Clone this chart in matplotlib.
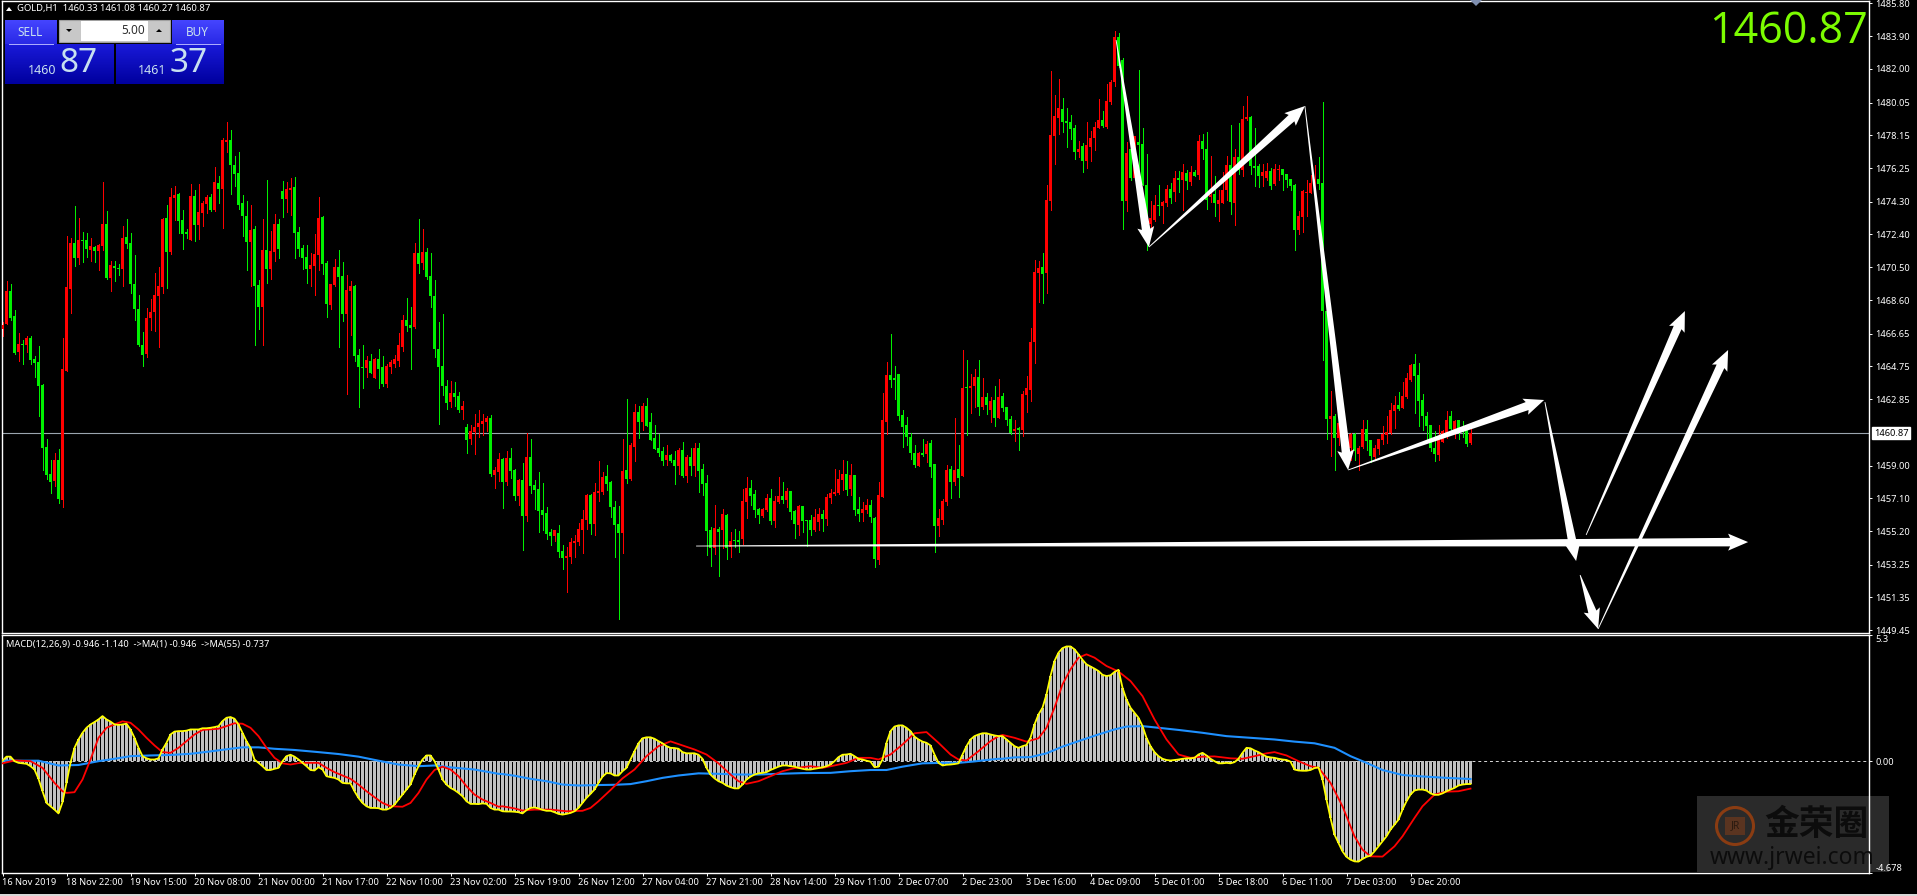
import numpy as np
import matplotlib
matplotlib.use('Agg')
import matplotlib.pyplot as plt
from matplotlib.patches import Polygon, Rectangle, Circle
from matplotlib.transforms import IdentityTransform

plt.rcParams['font.family'] = ['Noto Sans', 'Noto Sans CJK SC', 'DejaVu Sans']

# candle colours, r = up, g = down
candle_colors = ("rrggrgrggg" "gggrgrrrgr" "ggrgrrgrgg" "rgggggrrrr" "rgrrgggrgr"
                 "rrgrgrrggg" "ggrggrgrrg" "grrggggrrr" "ggrrggrrgg" "grgrggrrrr"
                 "rggrgrgggg" "ggrggrgrrr" "rrgrrgrggr" "grggggggrg" "grrrrrrgrr"
                 "rggggrgrrg" "rgggggrggr" "grgrggggrg" "rgrggrrggg" "rrgrrgrggr"
                 "gggrrgrrrr" "rgrggrrggr" "rrgggggggr" "grggrrrgrg" "rgrrgrgrgr"
                 "gggrgrrrrr" "grrrrggggr" "grrrrgrrrg" "grgrgggrrg" "rrgrgrgrgr"
                 "ggrgrrrgrg" "rrgggrrgrr" "ggggrrrrrg" "ggrgrggrgr" "rggrrrrrrg"
                 "rrrggggggr" "rrgrgggr")

body_top = [
    1467.15,1469.12,1469.12,1467.67,1466.05,1466.05,1466.40,1466.40,1465.18,1465.00,
    1463.67,1460.07,1458.51,1459.32,1459.32,1464.60,1469.35,1471.91,1471.91,1472.08,
    1472.08,1472.08,1471.73,1471.67,1471.79,1473.01,1473.01,1470.63,1470.57,1470.46,
    1472.20,1472.25,1471.91,1469.53,1468.08,1465.99,1467.56,1467.90,1468.89,1469.41,
    1473.30,1473.36,1474.57,1474.69,1474.75,1473.24,1472.54,1474.63,1474.63,1473.70,
    1474.23,1474.57,1474.57,1475.44,1475.39,1477.88,1477.88,1477.88,1476.43,1475.97,
    1474.23,1473.47,1472.66,1472.72,1469.47,1471.50,1471.50,1471.44,1473.01,1473.01,
    1474.92,1475.04,1475.10,1475.15,1472.54,1471.62,1471.09,1470.63,1471.27,1473.36,
    1473.41,1470.75,1469.53,1470.51,1470.51,1469.99,1469.18,1469.41,1469.41,1465.41,
    1464.71,1465.12,1465.06,1465.18,1465.18,1464.71,1464.77,1465.00,1465.18,1465.99,
    1467.44,1467.44,1467.15,1471.33,1471.33,1471.38,1471.38,1469.99,1468.83,1465.76,
    1464.77,1463.61,1463.21,1463.21,1463.03,1462.45,1461.23,1461.00,1461.23,1461.47,
    1461.58,1461.76,1461.76,1458.74,1459.38,1459.38,1459.44,1459.44,1458.74,1458.16,
    1458.16,1459.49,1459.49,1457.87,1457.64,1456.42,1456.25,1455.14,1455.26,1455.09,
    1454.04,1453.75,1454.56,1454.62,1455.32,1455.90,1457.29,1457.29,1457.46,1457.52,
    1458.33,1458.39,1458.04,1456.59,1455.61,1458.68,1458.74,1460.19,1462.10,1462.10,
    1462.45,1462.45,1461.52,1460.60,1460.02,1459.84,1459.61,1459.61,1459.32,1459.90,
    1459.90,1459.49,1459.49,1460.02,1460.02,1458.80,1457.99,1455.26,1455.38,1455.32,
    1456.19,1456.13,1454.62,1454.68,1454.68,1456.94,1457.70,1457.70,1457.35,1456.48,
    1456.48,1457.12,1457.12,1456.94,1457.23,1457.23,1457.52,1457.52,1456.36,1456.65,
    1456.65,1455.84,1455.84,1456.01,1456.19,1456.19,1457.17,1457.41,1457.46,1458.22,
    1458.51,1458.51,1458.45,1458.45,1456.48,1456.48,1456.71,1456.71,1455.96,1457.29,
    1461.64,1464.25,1464.25,1464.08,1464.31,1461.93,1461.35,1460.65,1459.73,1459.73,
    1459.73,1460.25,1460.31,1459.09,1455.96,1456.94,1458.74,1458.80,1458.74,1458.80,
    1463.50,1463.55,1463.61,1464.13,1464.13,1462.97,1462.97,1462.74,1462.80,1462.97,
    1463.03,1462.39,1461.70,1461.12,1461.18,1463.15,1463.50,1466.16,1470.22,1470.46,
    1470.51,1474.40,1478.17,1479.27,1479.74,1479.68,1478.98,1478.92,1478.58,1477.36,
    1477.53,1477.59,1478.00,1478.63,1479.04,1479.04,1480.14,1481.24,1483.88,1483.88,
    1482.52,1477.13,1477.36,1478.11,1477.76,1477.65,1475.27,1473.36,1474.11,1474.11,
    1474.28,1475.04,1475.04,1475.68,1475.68,1476.02,1475.97,1476.02,1476.02,1477.82,
    1477.82,1477.36,1474.69,1474.75,1474.40,1474.98,1476.43,1476.43,1476.89,1476.89,
    1479.10,1479.21,1479.21,1476.37,1476.37,1476.02,1476.08,1476.08,1476.20,1476.20,
    1476.20,1475.91,1475.62,1475.27,1473.47,1474.92,1474.86,1475.39,1475.62,1475.62,
    1475.39,1467.96,1461.87,1461.87,1461.47,1461.06,1460.65,1460.83,1460.83,1460.02,
    1461.12,1461.12,1460.48,1460.02,1460.54,1460.83,1460.94,1462.22,1462.51,1462.51,
    1463.03,1464.08,1464.83,1464.89,1464.25,1462.80,1461.87,1461.35,1460.02,1460.54,
    1461.00,1461.64,1461.87,1461.58,1461.64,1461.12,1461.06,1460.89]

body_bot = [
    1466.92,1467.21,1467.56,1465.53,1465.58,1465.99,1465.99,1465.12,1464.95,1463.61,
    1460.02,1458.45,1458.04,1458.10,1457.06,1457.00,1464.48,1469.24,1471.04,1471.04,
    1472.02,1471.56,1471.50,1471.44,1471.44,1471.73,1469.88,1469.88,1470.46,1470.40,
    1470.40,1471.85,1469.53,1468.08,1465.99,1465.41,1465.47,1467.56,1467.90,1468.83,
    1469.35,1471.38,1471.38,1474.52,1473.18,1472.43,1472.43,1472.08,1472.95,1472.95,
    1473.65,1474.17,1473.82,1473.82,1475.04,1475.04,1477.76,1476.43,1475.91,1474.11,
    1473.47,1471.96,1471.96,1469.41,1468.19,1468.19,1470.40,1470.40,1471.38,1471.56,
    1474.46,1474.46,1474.98,1472.49,1471.56,1471.04,1470.40,1470.40,1470.57,1471.21,
    1470.69,1468.37,1468.31,1469.47,1469.93,1467.79,1467.79,1469.12,1465.35,1464.71,
    1464.66,1464.66,1464.37,1464.08,1464.60,1463.73,1463.73,1464.71,1464.89,1465.06,
    1465.87,1467.09,1466.98,1467.03,1470.69,1470.75,1469.93,1468.83,1465.76,1464.71,
    1463.61,1462.63,1462.68,1462.97,1462.22,1462.22,1460.48,1460.54,1460.94,1461.23,
    1461.41,1461.52,1458.51,1458.45,1458.62,1458.04,1458.04,1458.68,1457.23,1457.23,
    1456.07,1456.07,1457.81,1457.58,1456.36,1456.13,1455.03,1454.91,1454.91,1453.98,
    1453.64,1453.64,1453.69,1454.51,1454.56,1455.26,1455.84,1455.61,1455.61,1457.41,
    1457.46,1457.93,1456.59,1455.55,1455.09,1455.09,1458.22,1458.22,1460.07,1461.52,
    1461.52,1461.29,1460.48,1459.96,1459.73,1459.26,1459.32,1459.26,1458.97,1458.97,
    1458.39,1458.39,1458.97,1458.97,1458.68,1457.93,1455.20,1454.22,1454.22,1455.14,
    1455.26,1454.22,1454.27,1454.62,1454.56,1454.74,1456.88,1457.23,1456.42,1456.13,
    1456.07,1456.42,1455.78,1455.78,1456.88,1457.00,1457.00,1456.30,1455.61,1455.55,
    1455.78,1455.78,1455.26,1455.26,1455.72,1455.90,1455.90,1457.12,1457.35,1457.41,
    1458.16,1457.58,1457.64,1456.42,1456.19,1456.25,1456.42,1456.01,1453.58,1453.52,
    1457.17,1461.52,1463.96,1463.96,1461.87,1461.23,1460.65,1459.73,1459.03,1458.97,
    1459.61,1459.67,1458.91,1455.49,1455.49,1455.84,1456.88,1458.04,1458.04,1458.28,
    1458.39,1463.50,1463.50,1463.61,1462.39,1462.39,1462.51,1462.22,1461.76,1461.76,
    1462.34,1461.64,1460.89,1461.00,1461.06,1461.06,1463.09,1463.38,1466.16,1470.17,
    1470.11,1470.17,1474.34,1478.11,1479.16,1478.92,1478.87,1478.52,1477.18,1477.18,
    1476.66,1476.66,1477.47,1478.00,1478.58,1478.69,1478.63,1480.08,1481.24,1482.17,
    1474.34,1474.34,1475.68,1475.68,1477.59,1475.27,1473.01,1473.01,1473.24,1474.05,
    1474.05,1474.23,1474.52,1474.86,1475.56,1475.56,1475.50,1475.44,1475.79,1475.85,
    1477.36,1474.40,1474.57,1474.23,1474.17,1474.23,1474.98,1474.28,1474.23,1476.14,
    1476.14,1479.10,1476.37,1476.26,1475.79,1475.79,1475.68,1475.21,1475.33,1476.14,
    1475.85,1475.56,1475.21,1472.66,1472.66,1473.41,1474.81,1474.81,1475.39,1475.33,
    1467.96,1461.70,1461.70,1460.60,1460.60,1460.60,1460.07,1460.02,1459.84,1459.67,
    1460.07,1460.42,1459.55,1459.49,1459.96,1460.48,1460.77,1460.89,1462.16,1462.28,
    1462.34,1462.97,1463.96,1464.19,1462.74,1461.87,1461.29,1460.02,1459.67,1459.61,
    1460.36,1460.89,1461.12,1461.06,1461.06,1461.00,1460.25,1460.31]

highs = [
    1467.32,1469.70,1469.53,1468.02,1466.69,1466.28,1466.51,1466.51,1465.35,1465.93,
    1463.73,1460.54,1459.32,1459.73,1459.96,1466.40,1472.31,1472.20,1474.05,1473.36,
    1472.54,1472.49,1472.20,1471.73,1471.85,1475.44,1473.76,1470.86,1470.86,1470.69,
    1472.89,1473.30,1472.49,1471.21,1468.89,1466.74,1468.14,1468.66,1470.17,1470.51,
    1473.36,1474.11,1475.10,1475.21,1474.81,1473.82,1472.72,1475.33,1474.98,1475.33,
    1474.34,1474.69,1474.75,1476.31,1475.79,1478.00,1478.92,1478.46,1476.95,1477.18,
    1474.69,1474.34,1474.11,1472.89,1469.76,1473.30,1475.56,1472.60,1473.59,1473.30,
    1475.50,1475.44,1475.68,1475.73,1472.83,1471.79,1471.79,1471.33,1472.43,1474.57,
    1473.47,1470.86,1469.53,1470.98,1471.50,1470.80,1470.05,1469.70,1469.47,1465.76,
    1465.99,1465.35,1465.47,1465.24,1465.76,1465.35,1464.89,1465.12,1465.41,1466.69,
    1467.73,1468.72,1468.19,1471.91,1473.30,1472.72,1471.62,1471.33,1469.76,1467.32,
    1467.79,1463.96,1463.90,1463.84,1463.26,1462.74,1461.41,1461.35,1461.99,1462.22,
    1461.99,1461.87,1461.93,1458.91,1459.73,1459.44,1459.84,1460.02,1458.80,1458.22,
    1459.15,1460.89,1460.54,1458.16,1458.62,1457.99,1456.59,1455.32,1455.26,1455.55,
    1454.39,1454.27,1454.80,1454.97,1455.67,1456.42,1457.35,1457.35,1457.99,1459.26,
    1458.62,1459.03,1458.10,1456.94,1456.65,1460.54,1462.86,1460.31,1462.57,1462.45,
    1462.63,1462.92,1462.05,1461.35,1460.83,1460.07,1460.19,1459.67,1459.84,1460.02,
    1460.36,1459.61,1460.02,1460.31,1460.31,1459.09,1458.45,1455.43,1456.71,1455.43,
    1456.48,1456.19,1455.14,1455.32,1455.20,1457.64,1458.33,1458.16,1457.58,1456.54,
    1456.54,1457.35,1457.64,1457.23,1458.33,1458.04,1457.70,1457.52,1456.42,1456.71,
    1456.65,1455.84,1456.13,1456.48,1456.54,1456.42,1457.35,1457.64,1458.80,1458.74,
    1459.32,1459.26,1459.09,1458.45,1457.17,1456.88,1457.06,1457.00,1456.01,1458.04,
    1463.21,1465.00,1466.63,1464.77,1464.31,1462.22,1461.81,1460.89,1460.19,1459.78,
    1460.54,1460.42,1460.48,1459.09,1456.48,1457.06,1459.03,1458.97,1461.76,1460.19,
    1465.70,1465.12,1464.31,1464.60,1465.12,1464.08,1463.21,1462.97,1463.61,1464.02,
    1463.21,1462.39,1461.87,1461.64,1461.23,1463.32,1464.19,1466.98,1470.92,1470.86,
    1471.33,1475.27,1481.88,1480.49,1481.42,1480.32,1479.74,1479.33,1478.75,1477.82,
    1477.71,1478.92,1478.40,1478.92,1480.26,1479.56,1481.13,1481.36,1484.20,1484.09,
    1482.64,1477.76,1477.36,1478.11,1481.94,1478.58,1477.07,1474.34,1474.69,1475.27,
    1474.34,1475.27,1475.39,1476.08,1476.08,1476.49,1476.14,1476.37,1476.14,1478.17,
    1478.23,1478.34,1476.95,1475.79,1474.98,1476.02,1476.95,1478.75,1477.36,1478.87,
    1479.85,1480.43,1479.27,1478.58,1476.49,1476.49,1476.55,1476.26,1476.49,1476.43,
    1476.20,1475.91,1475.62,1475.33,1473.76,1474.98,1475.56,1475.85,1476.43,1476.89,
    1480.08,1467.96,1463.32,1461.99,1461.76,1461.64,1460.77,1460.89,1460.89,1460.13,
    1461.64,1461.64,1460.48,1460.19,1460.54,1461.29,1461.87,1462.63,1463.03,1463.26,
    1463.84,1464.37,1464.89,1465.47,1464.95,1463.15,1462.10,1461.35,1461.00,1461.35,
    1461.06,1462.16,1462.16,1461.64,1461.64,1461.58,1461.06,1461.12]

lows = [
    1466.51,1467.21,1467.44,1465.47,1465.06,1464.89,1465.58,1464.89,1464.13,1461.87,
    1458.74,1458.22,1457.41,1457.81,1456.83,1456.59,1464.48,1467.85,1470.57,1470.69,
    1470.80,1471.09,1470.86,1470.80,1470.34,1471.50,1469.82,1469.12,1469.70,1470.05,
    1469.41,1471.62,1469.01,1467.44,1465.93,1464.77,1465.29,1466.86,1466.80,1465.87,
    1469.01,1469.30,1471.27,1473.24,1472.49,1471.56,1472.20,1472.08,1472.02,1472.14,
    1472.89,1473.65,1473.76,1473.76,1474.23,1472.78,1477.18,1474.75,1475.21,1473.88,
    1472.31,1470.34,1469.41,1465.99,1466.92,1465.99,1469.59,1469.82,1470.86,1471.04,
    1473.41,1473.70,1473.53,1471.04,1471.15,1470.40,1469.59,1469.41,1468.89,1470.34,
    1470.11,1467.61,1468.08,1469.41,1465.87,1467.38,1463.15,1466.57,1465.06,1462.39,
    1463.50,1464.13,1464.37,1464.08,1463.50,1463.61,1463.55,1464.37,1464.71,1464.77,
    1465.64,1466.80,1464.60,1466.98,1470.17,1470.40,1469.82,1468.19,1465.29,1461.41,
    1463.09,1462.28,1462.39,1462.45,1462.10,1461.70,1459.73,1460.25,1459.67,1460.65,
    1460.77,1461.00,1458.39,1457.70,1458.10,1456.54,1457.87,1458.28,1457.00,1456.71,
    1454.10,1455.78,1457.41,1456.48,1455.14,1455.26,1454.74,1454.39,1454.62,1453.69,
    1453.00,1451.66,1453.35,1453.69,1454.39,1453.93,1455.32,1455.03,1454.97,1456.94,
    1457.35,1457.58,1456.01,1453.69,1450.10,1453.93,1457.99,1458.16,1459.26,1460.60,
    1461.06,1461.29,1460.48,1459.96,1459.55,1459.03,1459.03,1459.20,1457.93,1458.51,
    1458.33,1458.04,1458.45,1458.39,1457.46,1457.29,1453.81,1453.17,1453.87,1452.59,
    1454.22,1453.58,1453.69,1454.27,1453.98,1454.45,1455.96,1456.71,1456.01,1455.67,
    1456.01,1456.36,1455.61,1455.43,1456.83,1456.83,1456.59,1455.90,1454.80,1454.97,
    1455.14,1454.33,1454.97,1455.20,1455.26,1455.20,1455.55,1456.83,1457.29,1457.35,
    1457.58,1457.29,1457.29,1456.13,1455.78,1455.78,1456.25,1455.72,1453.11,1453.29,
    1457.17,1460.83,1463.55,1462.86,1461.64,1460.07,1460.19,1459.38,1458.91,1458.97,
    1459.55,1459.20,1458.33,1453.98,1454.91,1455.61,1456.71,1457.12,1457.87,1457.17,
    1458.39,1460.77,1462.05,1462.39,1461.93,1462.28,1461.99,1461.52,1461.29,1461.76,
    1462.16,1461.35,1460.83,1460.42,1459.90,1460.71,1462.10,1462.74,1464.95,1468.48,
    1468.43,1469.01,1473.82,1476.49,1478.23,1478.34,1477.47,1477.94,1476.78,1476.89,
    1476.02,1476.26,1476.66,1477.30,1478.58,1478.63,1478.58,1479.97,1481.01,1482.11,
    1472.72,1473.76,1475.56,1475.68,1476.08,1475.27,1471.50,1472.43,1473.18,1473.53,
    1473.07,1474.05,1474.23,1474.34,1474.86,1473.82,1475.04,1475.27,1475.79,1475.62,
    1476.78,1473.88,1474.28,1473.47,1473.18,1474.23,1474.40,1473.59,1472.95,1475.91,
    1475.79,1479.04,1475.91,1475.21,1475.15,1475.21,1475.56,1475.04,1475.27,1475.56,
    1474.98,1475.15,1474.98,1471.50,1472.43,1472.54,1473.47,1474.81,1474.81,1475.04,
    1465.12,1460.54,1459.55,1458.74,1460.19,1459.73,1459.32,1459.32,1459.32,1458.74,
    1460.02,1459.90,1459.20,1459.38,1459.67,1460.25,1460.31,1460.83,1461.18,1462.22,
    1462.34,1462.92,1463.90,1462.05,1461.29,1461.06,1460.48,1459.84,1459.26,1459.32,
    1460.36,1460.60,1460.83,1460.60,1460.54,1460.65,1460.13,1460.25]

# MACD main line, same values as the histogram
macd = [
    0.03,0.20,0.20,0.01,-0.06,-0.08,-0.10,-0.20,-0.34,-0.73,
    -1.25,-1.74,-1.88,-2.02,-2.18,-1.71,-0.90,-0.06,0.57,0.92,
    1.20,1.41,1.55,1.65,1.76,1.90,1.76,1.67,1.55,1.53,
    1.55,1.58,1.34,0.99,0.57,0.22,0.13,0.08,0.08,0.13,
    0.50,0.78,1.13,1.25,1.27,1.27,1.29,1.34,1.34,1.34,
    1.39,1.39,1.41,1.44,1.48,1.69,1.83,1.86,1.79,1.55,
    1.20,0.85,0.57,0.08,-0.06,-0.20,-0.36,-0.36,-0.31,-0.27,
    0.01,0.22,0.28,0.20,0.08,-0.06,-0.20,-0.36,-0.38,-0.24,
    -0.34,-0.62,-0.66,-0.69,-0.76,-0.90,-0.92,-0.92,-1.25,-1.53,
    -1.74,-1.88,-1.95,-1.95,-1.96,-2.02,-2.02,-1.95,-1.81,-1.60,
    -1.39,-1.18,-0.97,-0.55,-0.20,0.08,0.25,0.25,0.01,-0.34,
    -0.76,-0.97,-1.11,-1.20,-1.32,-1.46,-1.67,-1.78,-1.78,-1.79,
    -1.76,-1.78,-1.95,-2.02,-2.02,
    -2.09,-2.10,-2.10,-2.11,-2.13,-2.18,-2.04,-1.95,-1.93,-1.97,
    -2.03,-2.07,-2.07,-2.13,-2.20,-2.23,-2.20,-2.16,-2.09,-1.95,
    -1.74,-1.53,-1.36,-1.18,-0.90,-0.64,-0.49,-0.50,-0.59,-0.59,
    -0.41,-0.27,0.08,0.43,0.76,0.97,1.01,1.01,0.95,0.85,
    0.76,0.64,0.57,0.56,0.53,0.39,0.34,0.34,0.34,0.28,
    0.11,-0.27,-0.55,-0.71,-0.83,-0.90,-1.01,-1.08,-1.13,-1.13,
    -0.97,-0.76,-0.64,-0.55,-0.50,-0.48,-0.45,-0.36,-0.29,-0.22,
    -0.17,-0.17,-0.20,-0.22,-0.27,-0.31,-0.34,-0.34,-0.31,-0.28,
    -0.25,-0.20,-0.13,0.01,0.18,0.28,0.29,0.32,0.22,0.11,
    0.08,0.03,-0.01,-0.24,-0.22,0.08,0.78,1.27,1.46,1.51,
    1.51,1.41,1.27,1.04,0.92,0.83,0.78,0.67,0.29,-0.06,
    -0.17,-0.14,-0.13,-0.11,-0.08,0.29,0.64,0.92,1.06,1.13,
    1.18,1.18,1.13,1.09,1.06,
    1.06,0.92,0.78,0.64,0.57,0.64,0.69,0.99,1.55,1.97,
    2.25,2.81,3.58,4.21,4.56,4.75,4.82,4.82,4.70,4.49,
    4.26,4.07,3.98,3.89,3.79,3.63,3.58,3.61,3.75,3.84,
    3.09,2.60,2.25,2.04,1.83,1.48,0.99,0.64,0.39,0.22,
    0.11,0.06,0.04,0.06,0.08,0.11,0.13,0.13,0.15,0.29,
    0.36,0.25,0.11,0.01,-0.08,-0.08,-0.06,-0.08,-0.03,0.11,
    0.36,0.57,0.55,0.46,0.39,0.29,0.20,0.17,0.15,0.11,
    0.08,0.06,-0.01,-0.34,-0.38,-0.39,-0.39,-0.36,-0.28,-0.25,
    -0.76,-1.60,-2.37,-3.07,-3.42,-3.77,-4.00,-4.12,-4.19,-4.20,
    -4.09,-4.00,-3.95,-3.77,-3.56,-3.35,-3.14,-2.86,-2.65,-2.44,
    -2.02,-1.67,-1.39,-1.22,-1.18,-1.18,-1.22,-1.34,-1.40,-1.40,
    -1.34,-1.25,-1.18,-1.11,-1.01,-0.97,-0.95,-0.946]

# red signal line, read at the turning points only
signal_idx = [0,3,7,10,13,15,16,18,20,22,24,26,28,30,32,34,36,38,40,42,44,46,48,50,54,56,58,60,62,64,
              66,68,70,72,74,76,79,81,83,87,89,91,93,95,97,100,102,104,106,108,110,112,114,116,118,120,122,124,
              125,128,130,133,137,141,145,147,149,152,155,158,161,164,167,170,173,176,179,182,184,186,189,192,195,198,
              202,205,208,211,214,217,219,222,225,228,231,234,237,239,241,244,247,249,
              250,253,256,259,261,263,265,267,269,271,273,276,279,282,285,288,291,294,297,300,303,307,310,313,316,318,
              321,324,327,329,332,335,338,340,342,345,348,350,353,355,358,361,364,367]
signal = [-0.08,0.04,0.01,-0.27,-0.90,-1.25,-1.32,-1.29,-0.76,0.08,0.99,1.41,1.55,1.68,1.62,1.34,0.99,0.67,0.39,0.36,
          0.57,0.85,1.13,1.32,1.37,1.48,1.60,1.58,1.41,1.06,0.57,0.15,-0.08,-0.13,-0.07,-0.06,-0.06,-0.27,-0.45,-0.73,
          -0.97,-1.25,-1.50,-1.74,-1.88,-1.90,-1.74,-1.32,-0.76,-0.36,-0.22,-0.34,-0.62,-1.04,-1.39,-1.60,-1.74,-1.90,
          -1.88,-1.97,-2.06,-2.02,-2.02,-2.09,-2.07,-1.95,-1.67,-1.20,-0.71,-0.34,0.22,0.64,0.84,0.67,0.50,0.29,-0.08,
          -0.55,-0.83,-0.94,-0.83,-0.62,-0.41,-0.28,-0.20,-0.27,-0.17,-0.06,0.15,0.15,0.08,0.29,0.71,1.18,1.23,0.78,0.29,
          0.08,0.04,0.43,0.85,1.06,
          1.11,0.99,0.83,0.97,1.41,2.25,3.23,3.86,4.35,4.49,4.35,4.00,3.77,3.37,2.74,1.76,0.92,0.29,0.15,0.20,0.21,0.13,
          0.11,0.22,0.34,0.39,0.25,0.01,-0.20,-0.27,-0.90,-1.88,-3.14,-3.70,-3.98,-3.99,-3.56,-3.14,-2.37,-1.88,-1.39,
          -1.27,-1.25,-1.14]

# blue MA(55)
ma55_idx = [0,9,14,19,24,28,32,37,42,47,52,57,60,64,68,73,79,84,89,94,99,104,108,112,118,124,
            125,128,132,136,140,144,149,153,157,161,165,169,174,179,184,189,194,200,207,212,217,221,225,230,235,239,243,246,249,
            250,253,257,261,265,269,274,278,281,285,289,294,300,306,312,318,323,328,333,337,341,345,350,355,361,367]
ma55 = [0.03,0.03,-0.17,-0.15,0.01,0.11,0.22,0.25,0.27,0.32,0.42,0.53,0.59,0.59,0.53,0.48,0.39,0.31,0.20,0.03,-0.13,-0.20,-0.17,-0.25,-0.34,-0.52,
        -0.53,-0.60,-0.73,-0.83,-0.97,-1.01,-0.99,-0.98,-0.95,-0.83,-0.69,-0.59,-0.50,-0.52,-0.55,-0.55,-0.52,-0.49,-0.48,-0.41,-0.36,-0.36,-0.22,-0.08,-0.06,-0.06,0.00,0.06,0.11,
        0.11,0.17,0.18,0.34,0.62,0.85,1.13,1.34,1.46,1.48,1.41,1.32,1.20,1.06,0.99,0.92,0.83,0.76,0.57,0.22,-0.06,-0.36,-0.57,-0.63,-0.69,-0.737]

price_ticks = [1485.80,1483.90,1482.00,1480.05,1478.15,1476.25,1474.30,1472.40,1470.50,1468.60,
               1466.65,1464.75,1462.85,1459.00,1457.10,1455.20,1453.25,1451.35,1449.45]
price_labels = ['%.2f' % p for p in price_ticks]
current_price = 1460.87

macd_ticks = [5.3, 0.0, -4.678]
macd_labels = ['5.3', '0.00', '-4.678']

time_labels = ['16 Nov 2019','18 Nov 22:00','19 Nov 15:00','20 Nov 08:00','21 Nov 00:00','21 Nov 17:00',
               '22 Nov 10:00','23 Nov 02:00','25 Nov 19:00','26 Nov 12:00','27 Nov 04:00','27 Nov 21:00',
               '28 Nov 14:00','29 Nov 11:00','2 Dec 07:00','2 Dec 23:00','3 Dec 16:00','4 Dec 09:00',
               '5 Dec 01:00','5 Dec 18:00','6 Dec 11:00','7 Dec 03:00','9 Dec 20:00']
time_ticks = [16 * k for k in range(len(time_labels))]

# hand drawn arrows: tail candle, tail price, tip candle, tip price
arrow_x0 = [278.4, 286.6, 325.6, 336.4, 385.6, 173.4, 395.9, 394.4, 398.9]
arrow_y0 = [1483.68, 1471.67, 1479.85, 1458.74, 1462.68, 1454.33, 1454.97, 1452.65, 1449.52]
arrow_x1 = [286.6, 325.6, 336.4, 385.4, 393.4, 436.4, 420.6, 398.9, 431.4]
arrow_y1 = [1471.67, 1479.85, 1458.74, 1462.80, 1453.46, 1454.56, 1467.96, 1449.52, 1465.70]

W, H = 1917, 896
fig = plt.figure(figsize=(W / 100, H / 100), dpi=100, facecolor='black')


def px_axes(x0, y0, x1, y1):
    return fig.add_axes([x0 / W, (H - y1) / H, (x1 - x0) / W, (y1 - y0) / H])


ax = px_axes(2, 1, 1869, 633)
ax2 = px_axes(2, 635, 1869, 873)
xmin, xmax = -0.125, 466.625

for a in (ax, ax2):
    a.set_facecolor('black')
    a.set_xlim(xmin, xmax)
    for s in a.spines.values():
        s.set_color('white')
        s.set_linewidth(1.0)
    a.yaxis.tick_right()
    a.tick_params(axis='y', colors='white', labelsize=6.7, length=2, width=0.7, pad=2.5)

# price panel
ax.set_ylim(1449.286, 1485.942)
ax.set_yticks(price_ticks)
ax.set_yticklabels(price_labels)
ax.set_xticks([])
ax.axhline(current_price, color='#9aa4ae', lw=0.8, zorder=1)

xs = np.arange(len(body_top))
colors = ['#ff0000' if c == 'r' else '#00f000' for c in candle_colors]
ax.vlines(xs, lows, highs, colors=colors, lw=0.55, antialiased=False, zorder=2)
tops = np.array(body_top)
bots = np.array(body_bot)
ax.bar(xs, np.maximum(tops - bots, 0.06), bottom=bots, width=0.6, color=colors, linewidth=0,
       antialiased=False, zorder=3)

ax.annotate('%.2f' % current_price, xy=(1, current_price), xycoords=ax.get_yaxis_transform(),
            xytext=(3.5, 0), textcoords='offset points', va='center', ha='left', fontsize=6.7, color='black',
            bbox=dict(boxstyle='square,pad=0.15', fc='white', ec='white'), annotation_clip=False)


def draw_arrow(x0, y0, x1, y1, head_len=18, head_w=17, shaft_w=8.5):
    t, p = ax.transData.transform([(x0, y0), (x1, y1)])
    d = (p - t) / np.linalg.norm(p - t)
    n = np.array([-d[1], d[0]])
    base = p - d * head_len
    pts = [t + n * 0.4, base + n * shaft_w / 2, base - d * 2 + n * head_w / 2, p,
           base - d * 2 - n * head_w / 2, base - n * shaft_w / 2, t - n * 0.4]
    ax.add_patch(Polygon(pts, closed=True, fc='white', ec='none', transform=IdentityTransform(),
                         zorder=5, clip_on=False))


for k in range(len(arrow_x0)):
    draw_arrow(arrow_x0[k], arrow_y0[k], arrow_x1[k], arrow_y1[k])

# macd panel
ax2.set_ylim(-4.678, 5.3)
ax2.set_yticks(macd_ticks)
ax2.set_yticklabels(macd_labels)
ax2.get_yticklabels()[0].set_va('top')
ax2.get_yticklabels()[2].set_va('bottom')
ax2.set_xticks(time_ticks)
ax2.set_xticklabels(time_labels, ha='left')
ax2.tick_params(axis='x', colors='white', labelsize=6.7, length=2, width=0.7, pad=1.5)
ax2.axhline(0, color='#d8d8d8', lw=0.7, ls=(0, (3, 3)), zorder=1)
ax2.bar(xs, macd, width=0.6, color='#c0c0c0', linewidth=0, antialiased=False, zorder=2)
ax2.plot(ma55_idx, ma55, color='#1e90ff', lw=1.5, zorder=3)
ax2.plot(signal_idx, signal, color='#ff0000', lw=1.3, zorder=4)
ax2.plot(xs, macd, color='#ffff00', lw=1.3, zorder=5)

# overlay in pixel coords for the terminal widgets
over = fig.add_axes([0, 0, 1, 1], zorder=10)
over.patch.set_alpha(0)
over.axis('off')


def gradient(x0, x1, y0, y1, c_top, c_bot):
    rows = np.linspace(0, 1, 32)[:, None, None]
    img = (1 - rows) * np.array(c_top)[None, None, :] + rows * np.array(c_bot)[None, None, :]
    over.imshow(img, extent=(x0, x1, y1, y0), aspect='auto', zorder=1)


sell_top = (0.27, 0.27, 1.0)
sell_mid = (0.16, 0.16, 0.9)
deep_top = (0.10, 0.10, 0.85)
deep_bot = (0.0, 0.0, 0.62)
gradient(5, 57, 20, 44, sell_top, sell_mid)
gradient(172, 224, 20, 44, sell_top, sell_mid)
gradient(5, 114, 44, 84, deep_top, deep_bot)
gradient(116, 224, 44, 84, deep_top, deep_bot)
over.add_patch(Rectangle((59, 20), 111, 22, fc='#c8c8c8', ec='#a0a0a0', lw=0.8, zorder=2))
over.add_patch(Rectangle((81, 21), 67, 20, fc='white', ec='none', zorder=3))
over.plot([9, 53], [44, 44], color='#b0b0ff', lw=0.7, zorder=3)
over.plot([176, 220], [44, 44], color='#b0b0ff', lw=0.7, zorder=3)
over.add_patch(Polygon([(66, 29), (72, 29), (69, 32)], fc='black', zorder=3))
over.add_patch(Polygon([(156, 32), (162, 32), (159, 29)], fc='black', zorder=3))
over.add_patch(Polygon([(6, 11), (12, 11), (9, 7)], fc='white', zorder=3))
over.add_patch(Polygon([(1470, 0), (1482, 0), (1476, 6)], fc='#7f8fb0', zorder=3))

ui = '#c8e0f0'
over.text(30, 32, 'SELL', color=ui, fontsize=8.5, ha='center', va='center', zorder=4)
over.text(197, 32, 'BUY', color=ui, fontsize=8.5, ha='center', va='center', zorder=4)
over.text(145, 31, '5.00', color='#303030', fontsize=8.5, ha='right', va='center', zorder=4)
over.text(56, 71, '1460', color=ui, fontsize=9, fontweight='bold', ha='right', va='center', zorder=4)
over.text(59, 64, '87', color=ui, fontsize=24, ha='left', va='center', zorder=4)
over.text(166, 71, '1461', color=ui, fontsize=9, fontweight='bold', ha='right', va='center', zorder=4)
over.text(170, 64, '37', color=ui, fontsize=24, ha='left', va='center', zorder=4)
over.text(17, 8.5, 'GOLD,H1  1460.33 1461.08 1460.27 1460.87', color='white', fontsize=6.8, va='center', zorder=4)
over.text(6, 644, 'MACD(12,26,9) -0.946 -1.140  ->MA(1) -0.946  ->MA(55) -0.737', color='white',
          fontsize=6.7, va='center', zorder=4)
over.text(1868, 32, '1460.87', color='#7cfc00', fontsize=31, family='Open Sans', ha='right', va='center', zorder=4)

# watermark, light veil so the axis line still shows through
over.add_patch(Rectangle((1697, 796), 192, 76, fc='white', alpha=0.17, ec='none', zorder=2))
over.add_patch(Circle((1735, 826), 18.5, fc='none', ec='#8a3c12', lw=2.2, zorder=3))
over.add_patch(Rectangle((1725, 817), 20, 18, fc='#5a3420', ec='none', zorder=3))
over.text(1735, 826, 'JR', color='#2a1a10', fontsize=7.5, ha='center', va='center', zorder=4)
over.text(1816, 825, '金荣圈', color='#0c0c0c', fontsize=25, fontweight='bold', family='Noto Sans CJK SC',
          ha='center', va='center', zorder=4)
over.text(1792, 858, 'www.jrwei.com', color='#0c0c0c', fontsize=16.5, family='Noto Sans',
          ha='center', va='center', zorder=4)

# thin light strip along the bottom of the window
over.add_patch(Rectangle((0, 894), W, 2, fc='#d8d8d8', ec='none', zorder=3))
over.set_xlim(0, W)
over.set_ylim(H, 0)

fig.savefig('out.png', dpi=100, facecolor='black')
